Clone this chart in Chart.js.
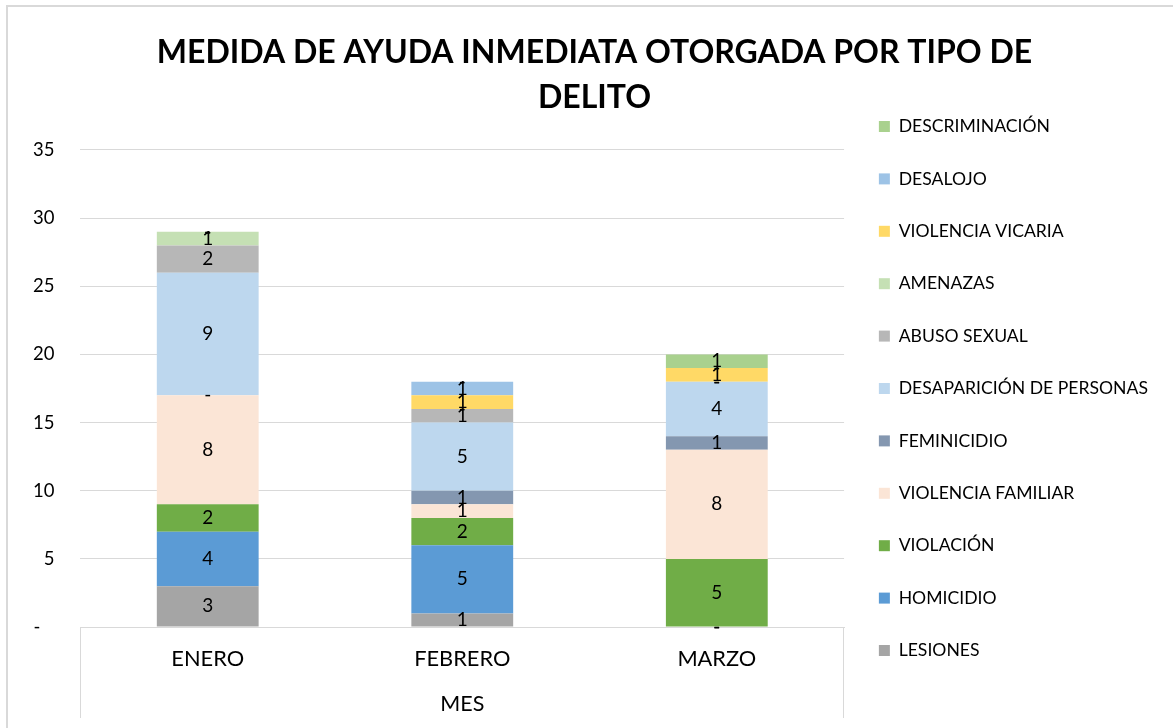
<!DOCTYPE html>
<html>
<head>
<meta charset="utf-8">
<script src="https://cdn.jsdelivr.net/npm/chart.js@4"></script>
<style>
  html, body { margin: 0; padding: 0; background: #fff; overflow: hidden; }
  #wrap { width: 1173px; height: 728px; position: relative; }
</style>
</head>
<body>
<div id="wrap"><canvas id="myChart" width="1173" height="728"></canvas></div>
<script>
const meses = ['ENERO', 'FEBRERO', 'MARZO'];

// valores por tipo de delito (orden de abajo hacia arriba en la pila)
const lesiones = [3, 1, 0];
const homicidio = [4, 5, 0];
const violacion = [2, 2, 5];
const violenciaFamiliar = [8, 1, 8];
const feminicidio = [0, 1, 1];
const desaparicion = [9, 5, 4];
const abusoSexual = [2, 1, 0];
const amenazas = [1, 0, 0];
const violenciaVicaria = [0, 1, 1];
const desalojo = [0, 1, 0];
const descriminacion = [0, 0, 1];

const yTicks = [0, 5, 10, 15, 20, 25, 30, 35];

const FONT = 'Lato';
const ctx = document.getElementById('myChart').getContext('2d');

// fondo y marco del área del gráfico
const frame = {
    id: 'frame',
    beforeDraw(chart) {
        const c = chart.ctx;
        c.save();
        c.fillStyle = '#fff';
        c.fillRect(0, 0, chart.width, chart.height);
        c.strokeStyle = '#d9d9d9';
        c.lineWidth = 2;
        c.beginPath();
        c.moveTo(7, chart.height);
        c.lineTo(7, 6);
        c.lineTo(chart.width, 6);
        c.stroke();
        c.restore();
    },
    afterDraw(chart) {
        // caja del eje de categorías
        const x = chart.scales.x;
        const c = chart.ctx;
        c.save();
        c.strokeStyle = '#d9d9d9';
        c.lineWidth = 1;
        c.beginPath();
        c.moveTo(Math.round(x.left) + 0.5, x.top);
        c.lineTo(Math.round(x.left) + 0.5, x.bottom);
        c.moveTo(Math.round(x.right) - 0.5, x.top);
        c.lineTo(Math.round(x.right) - 0.5, x.bottom);
        c.stroke();
        c.restore();
    }
};

// etiquetas de datos centradas en cada segmento
const segLabels = {
    id: 'segLabels',
    afterDatasetsDraw(chart) {
        const c = chart.ctx;
        c.save();
        c.font = '19px ' + FONT;
        c.fillStyle = '#000';
        c.textAlign = 'center';
        c.textBaseline = 'middle';
        chart.data.datasets.forEach((ds, i) => {
            const meta = chart.getDatasetMeta(i);
            meta.data.forEach((bar, j) => {
                const v = ds.data[j];
                const y = (bar.y + bar.base) / 2;
                c.fillText(v === 0 ? '-' : String(v), bar.x, y);
            });
        });
        c.restore();
    }
};

const data = {
    labels: meses,
    datasets: [
        { label: 'LESIONES', data: lesiones, backgroundColor: '#a5a5a5' },
        { label: 'HOMICIDIO', data: homicidio, backgroundColor: '#5b9bd5' },
        { label: 'VIOLACIÓN', data: violacion, backgroundColor: '#70ad47' },
        { label: 'VIOLENCIA FAMILIAR', data: violenciaFamiliar, backgroundColor: '#fbe5d6' },
        { label: 'FEMINICIDIO', data: feminicidio, backgroundColor: '#8497b0' },
        { label: 'DESAPARICIÓN DE PERSONAS', data: desaparicion, backgroundColor: '#bdd7ee' },
        { label: 'ABUSO SEXUAL', data: abusoSexual, backgroundColor: '#b7b7b7' },
        { label: 'AMENAZAS', data: amenazas, backgroundColor: '#c5e0b4' },
        { label: 'VIOLENCIA VICARIA', data: violenciaVicaria, backgroundColor: '#ffd966' },
        { label: 'DESALOJO', data: desalojo, backgroundColor: '#9dc3e6' },
        { label: 'DESCRIMINACIÓN', data: descriminacion, backgroundColor: '#a9d18e' },
    ],
};

const config = {
    type: 'bar',
    data: data,
    options: {
        responsive: false,
        animation: false,
        barPercentage: 0.4,
        categoryPercentage: 1,
        layout: { padding: { left: 7, right: 15, top: 0, bottom: 10 } },
        plugins: {
            title: {
                display: true,
                text: ['\u2003MEDIDA DE AYUDA INMEDIATA OTORGADA POR TIPO DE', '\u2003DELITO'],
                color: '#000',
                font: { family: FONT, size: 32, weight: 'bold', lineHeight: 1.406 },
                padding: { top: 30, bottom: 30 },
            },
            legend: {
                position: 'right',
                reverse: true,
                maxWidth: 400,
                title: { display: true, text: ' ', font: { size: 10, lineHeight: 1 }, padding: { top: 24.5, bottom: 24.5 } },
                labels: {
                    boxWidth: 11,
                    boxHeight: 11,
                    padding: 34.8,
                    color: '#000',
                    font: { family: FONT, size: 17.6 },
                },
            },
            tooltip: { enabled: false },
        },
        scales: {
            x: {
                stacked: true,
                grid: { display: false, drawTicks: false },
                border: { display: true, color: '#d9d9d9' },
                ticks: { padding: 19, color: '#000', font: { family: FONT, size: 21.8 } },
                title: {
                    display: true, text: 'MES', color: '#000',
                    font: { family: FONT, size: 21.5 },
                    padding: { top: 0, bottom: 1 },
                },
            },
            y: {
                stacked: true,
                min: 0,
                max: 35,
                afterBuildTicks: (axis) => { axis.ticks = yTicks.map(v => ({ value: v })); },
                grid: { color: '#d9d9d9', drawTicks: false },
                border: { display: false },
                ticks: {
                    padding: 26,
                    color: '#000',
                    font: { family: FONT, size: 18.5 },
                    callback: (value) => value === 0 ? '-   ' : value,
                },
            },
        },
    },
    plugins: [frame, segLabels],
};

const myChart = new Chart(ctx, config);
</script>
</body>
</html>
